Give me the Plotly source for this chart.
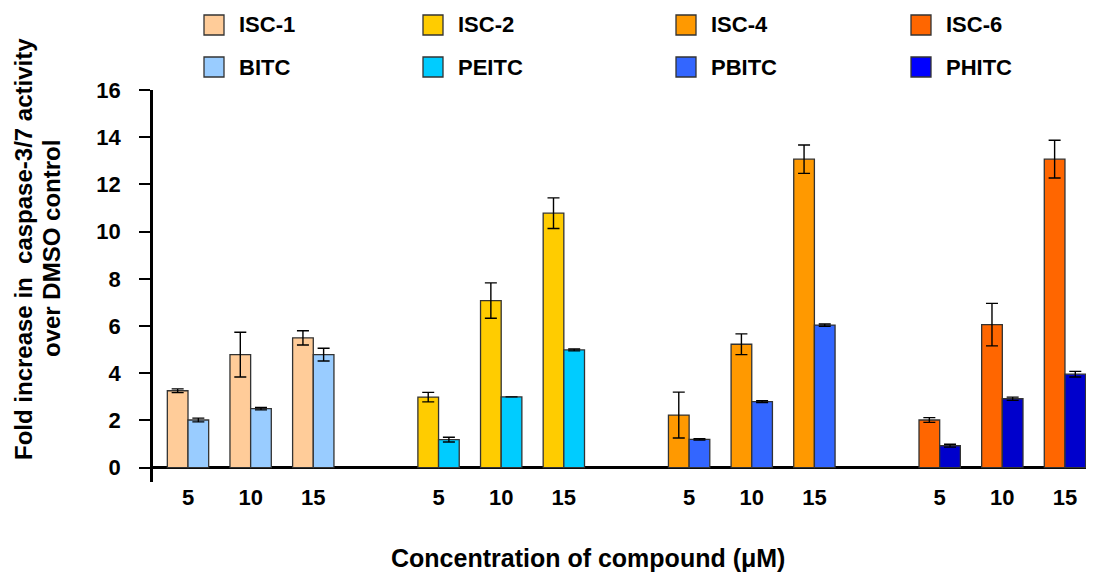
import plotly.graph_objects as go

# ---- data ----
concentrations = ["5", "10", "15"]
isc_names = ["ISC-1", "ISC-2", "ISC-4", "ISC-6"]
itc_names = ["BITC", "PEITC", "PBITC", "PHITC"]

isc1 = [3.26, 4.79, 5.50]
isc1_err = [0.08, 0.95, 0.30]
bitc = [2.02, 2.50, 4.79]
bitc_err = [0.08, 0.05, 0.27]

isc2 = [2.99, 7.08, 10.78]
isc2_err = [0.20, 0.75, 0.65]
peitc = [1.19, 3.00, 4.99]
peitc_err = [0.10, None, 0.04]

isc4 = [2.23, 5.23, 13.07]
isc4_err = [0.97, 0.44, 0.60]
pbitc = [1.20, 2.80, 6.04]
pbitc_err = [0.03, 0.04, 0.05]

isc6 = [2.02, 6.06, 13.07]
isc6_err = [0.10, 0.90, 0.80]
phitc = [0.93, 2.92, 3.96]
phitc_err = [0.06, 0.07, 0.12]

isc_vals = [isc1, isc2, isc4, isc6]
isc_errs = [isc1_err, isc2_err, isc4_err, isc6_err]
itc_vals = [bitc, peitc, pbitc, phitc]
itc_errs = [bitc_err, peitc_err, pbitc_err, phitc_err]

isc_colors = ["#FFCC99", "#FFCC00", "#FF9900", "#FF6600"]
itc_colors = ["#99CCFF", "#00CCFF", "#3366FF", "#0000CC"]
itc_legend_colors = ["#99CCFF", "#00CCFF", "#3366FF", "#0000FF"]

FONT = "Liberation Sans, Arial, sans-serif"
BW = 0.33

fig = go.Figure()
tickvals, ticktext = [], []
for g in range(4):
    xs = [g * 4 + i for i in range(len(concentrations))]
    tickvals += xs
    ticktext += concentrations
    for vals, errs, col, off in [
        (isc_vals[g], isc_errs[g], isc_colors[g], -BW),
        (itc_vals[g], itc_errs[g], itc_colors[g], 0.0),
    ]:
        fig.add_trace(go.Bar(
            x=xs, y=vals, width=BW, offset=off,
            marker=dict(color=col, line=dict(color="#333333", width=1.3)),
            error_y=dict(type="data", array=errs, visible=True,
                         color="#000000", thickness=1.4, width=6),
            showlegend=False,
        ))

# ---- layout geometry (screen pixels; page body has an 8px margin) ----
O = 8
SW, SH = 1094, 576
W, H = SW - O, SH - O
L_s, R_s, T_s, B_s = 153, 1094, 90, 482       # plot area on screen
L, T = L_s - O, T_s - O
R, B = SW - R_s, SH - B_s
pw, ph = R_s - L_s, B_s - T_s


def px(p):
    return (p - L_s) / pw


def py(p):
    return (B_s - p) / ph


shapes, annotations = [], []
col_left = [204, 423, 676, 911]
row_c = [25, 67]
for c in range(4):
    for r, (name, color) in enumerate([(isc_names[c], isc_colors[c]),
                                        (itc_names[c], itc_legend_colors[c])]):
        shapes.append(dict(type="rect", xref="paper", yref="paper",
                           x0=px(col_left[c]), x1=px(col_left[c] + 20),
                           y0=py(row_c[r] + 10), y1=py(row_c[r] - 10),
                           fillcolor=color, line=dict(color="#333333", width=1.3)))
        annotations.append(dict(xref="paper", yref="paper", x=px(col_left[c] + 33),
                                y=py(row_c[r]), text=name, showarrow=False,
                                xanchor="left", yanchor="middle",
                                font=dict(family=FONT, size=22, color="black", weight="bold")))

for txt, xc in [("Fold increase in  caspase-3/7 activity", 23), ("over DMSO control", 51)]:
    annotations.append(dict(xref="paper", yref="paper", x=px(xc), y=py(249),
                            text=txt, textangle=-90, showarrow=False,
                            xanchor="center", yanchor="middle",
                            font=dict(family=FONT, size=24, color="black", weight="bold")))
annotations.append(dict(xref="paper", yref="paper", x=px(588), y=py(558),
                        text="Concentration of compound (\u03bcM)",
                        showarrow=False, xanchor="center", yanchor="middle",
                        font=dict(family=FONT, size=25, color="black", weight="bold")))

fig.update_layout(
    width=W, height=H,
    margin=dict(l=L, r=R, t=T, b=B, pad=0),
    paper_bgcolor="white", plot_bgcolor="white",
    barmode="overlay",
    font=dict(family=FONT, size=22, color="black", weight="bold"),
    shapes=shapes, annotations=annotations,
    xaxis=dict(range=[(L_s - 188) / 62.64, (R_s - 188) / 62.64],
               tickvals=tickvals, ticktext=ticktext,
               showgrid=False, zeroline=False, showline=False,
               ticks="",
               tickfont=dict(family=FONT, size=22, color="black", weight="bold")),
    yaxis=dict(range=[-0.606, 16.0], tickvals=list(range(0, 17, 2)),
               showgrid=False, zeroline=True, zerolinecolor="black", zerolinewidth=3,
               showline=True, linecolor="black", linewidth=2.5,
               ticks="outside", ticklen=11, tickwidth=2, tickcolor="black",
               ticklabelstandoff=14,
               tickfont=dict(family=FONT, size=22, color="black", weight="bold")),
)

fig.write_html("out.html")
